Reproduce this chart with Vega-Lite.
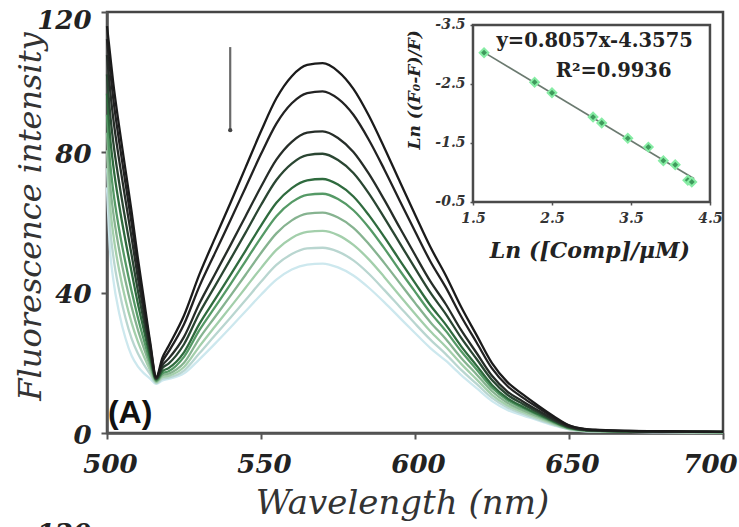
{
  "$schema": "https://vega.github.io/schema/vega-lite/v6.json",
  "width": 616,
  "height": 421,
  "autosize": {"type": "none"},
  "padding": {"left": 107, "top": 12, "right": 16, "bottom": 94},
  "background": "white",
  "config": {"view": {"stroke": "#454545", "strokeWidth": 2.5}, "axis": {"grid": false}},
  "resolve": {"scale": {"x": "independent", "y": "independent"}},
  "layer": [
    {
      "encoding": {
        "x": {"field": "x", "type": "quantitative", "scale": {"domain": [500, 700], "nice": false, "zero": false},
          "axis": {"values": [500, 550, 600, 650, 700], "title": "Wavelength (nm)", "domainColor": "#555", "domainWidth": 2.5, "tickColor": "#555", "tickWidth": 2, "tickSize": 6,
            "labelFont": "DejaVu Serif", "labelFontSize": 26, "labelFontWeight": "bold", "labelFontStyle": "italic", "labelColor": "#222", "labelBaseline": "alphabetic", "labelPadding": 33,
            "labelOffset": {"condition": {"test": "datum.value == 700", "value": -13}, "value": 3}, "labelFlush": false, "labelOverlap": false,
            "titleFont": "DejaVu Serif", "titleFontSize": 34, "titleFontStyle": "italic", "titleFontWeight": "normal", "titleColor": "#333", "titleX": 295, "titleY": 80, "titleBaseline": "alphabetic", "titleAlign": "center"}},
        "y": {"field": "y", "type": "quantitative", "scale": {"domain": [0, 120], "nice": false, "zero": false},
          "axis": {"values": [0, 40, 80, 120], "title": "Fluorescence intensity", "domainColor": "#555", "domainWidth": 2.5, "tickColor": "#555", "tickWidth": 2, "tickSize": 6,
            "labelFont": "DejaVu Serif", "labelFontSize": 26, "labelFontWeight": "bold", "labelFontStyle": "italic", "labelColor": "#222", "labelPadding": 10, "labelFlush": false, "labelOverlap": false,
            "labelOffset": {"condition": {"test": "datum.value == 120", "value": 8}, "value": 2},
            "titleFont": "DejaVu Serif", "titleFontSize": 32, "titleFontStyle": "italic", "titleFontWeight": "normal", "titleColor": "#333", "titleX": -67, "titleY": 204, "titleAngle": 270, "titleBaseline": "alphabetic", "titleAlign": "center"}}
      },
      "layer": [
        {
          "data": {"values": [
            {"x": 500, "s01": 70, "s02": 75.5, "s03": 80.6, "s04": 85.6, "s05": 90.7, "s06": 96.7, "s07": 102.2, "s08": 107.7, "s09": 112.3, "s10": 116},
            {"x": 501, "s01": 52, "s02": 58.7, "s03": 64.9, "s04": 71, "s05": 77.2, "s06": 84.5, "s07": 91.2, "s08": 97.9, "s09": 103.5, "s10": 108},
            {"x": 502, "s01": 44, "s02": 50.7, "s03": 56.9, "s04": 63, "s05": 69.2, "s06": 76.5, "s07": 83.2, "s08": 89.9, "s09": 95.5, "s10": 100},
            {"x": 504, "s01": 34, "s02": 40.4, "s03": 46.2, "s04": 52, "s05": 57.8, "s06": 64.7, "s07": 71.1, "s08": 77.5, "s09": 82.8, "s10": 87},
            {"x": 506, "s01": 27, "s02": 32.8, "s03": 38, "s04": 43.3, "s05": 48.6, "s06": 54.8, "s07": 60.6, "s08": 66.4, "s09": 71.2, "s10": 75},
            {"x": 508, "s01": 22, "s02": 26.9, "s03": 31.4, "s04": 35.9, "s05": 40.4, "s06": 45.8, "s07": 50.7, "s08": 55.6, "s09": 59.7, "s10": 63},
            {"x": 510, "s01": 19, "s02": 22.7, "s03": 26.1, "s04": 29.5, "s05": 33, "s06": 37, "s07": 40.7, "s08": 44.4, "s09": 47.5, "s10": 50},
            {"x": 512, "s01": 17, "s02": 19.5, "s03": 21.8, "s04": 24.1, "s05": 26.4, "s06": 29.2, "s07": 31.7, "s08": 34.2, "s09": 36.3, "s10": 38},
            {"x": 514, "s01": 15.5, "s02": 16.8, "s03": 17.9, "s04": 19.1, "s05": 20.2, "s06": 21.6, "s07": 22.8, "s08": 24.1, "s09": 25.2, "s10": 26},
            {"x": 516, "s01": 14, "s02": 14.2, "s03": 14.5, "s04": 14.7, "s05": 14.9, "s06": 15.2, "s07": 15.4, "s08": 15.6, "s09": 15.8, "s10": 16},
            {"x": 518, "s01": 15, "s02": 15.5, "s03": 16, "s04": 16.5, "s05": 17, "s06": 17.6, "s07": 18.5, "s08": 19.3, "s09": 20.4, "s10": 21.5},
            {"x": 520, "s01": 15.4, "s02": 15.8, "s03": 16.3, "s04": 16.9, "s05": 17.6, "s06": 18.5, "s07": 19.8, "s08": 21.2, "s09": 23.2, "s10": 24.8},
            {"x": 525, "s01": 17, "s02": 17.8, "s03": 18.8, "s04": 20, "s05": 21.7, "s06": 23, "s07": 25.3, "s08": 27.4, "s09": 31, "s10": 33.5},
            {"x": 530, "s01": 21, "s02": 22.7, "s03": 24.7, "s04": 27, "s05": 29.3, "s06": 31.1, "s07": 34.2, "s08": 36.9, "s09": 41.8, "s10": 45.2},
            {"x": 535, "s01": 25.4, "s02": 27.8, "s03": 30.3, "s04": 33, "s05": 35.8, "s06": 38, "s07": 41.8, "s08": 45.2, "s09": 51.2, "s10": 55.4},
            {"x": 540, "s01": 30, "s02": 32.8, "s03": 35.8, "s04": 39, "s05": 42.3, "s06": 44.9, "s07": 49.4, "s08": 53.4, "s09": 60.5, "s10": 65.4},
            {"x": 545, "s01": 34.7, "s02": 37.9, "s03": 41.4, "s04": 45.1, "s05": 49, "s06": 52, "s07": 57.1, "s08": 61.8, "s09": 70, "s10": 75.7},
            {"x": 550, "s01": 39.4, "s02": 43.1, "s03": 47, "s04": 51.3, "s05": 55.7, "s06": 59.1, "s07": 65, "s08": 70.2, "s09": 79.5, "s10": 86},
            {"x": 555, "s01": 43.7, "s02": 47.9, "s03": 52.2, "s04": 56.9, "s05": 61.8, "s06": 65.6, "s07": 72.1, "s08": 77.9, "s09": 88.2, "s10": 95.4},
            {"x": 560, "s01": 46.6, "s02": 51, "s03": 55.6, "s04": 60.6, "s05": 65.8, "s06": 69.8, "s07": 76.8, "s08": 83, "s09": 94, "s10": 101.7},
            {"x": 565, "s01": 48, "s02": 52.6, "s03": 57.3, "s04": 62.5, "s05": 67.9, "s06": 72, "s07": 79.2, "s08": 85.6, "s09": 96.9, "s10": 104.9},
            {"x": 570, "s01": 48.3, "s02": 52.8, "s03": 57.6, "s04": 62.8, "s05": 68.2, "s06": 72.4, "s07": 79.6, "s08": 86, "s09": 97.4, "s10": 105.4},
            {"x": 575, "s01": 47.2, "s02": 51.7, "s03": 56.4, "s04": 61.4, "s05": 66.7, "s06": 70.8, "s07": 77.8, "s08": 84.1, "s09": 95.3, "s10": 103.1},
            {"x": 580, "s01": 44.9, "s02": 49.2, "s03": 53.6, "s04": 58.5, "s05": 63.5, "s06": 67.4, "s07": 74.1, "s08": 80.1, "s09": 90.7, "s10": 98.1},
            {"x": 585, "s01": 41.4, "s02": 45.4, "s03": 49.5, "s04": 53.9, "s05": 58.6, "s06": 62.1, "s07": 68.3, "s08": 73.9, "s09": 83.6, "s10": 90.5},
            {"x": 590, "s01": 37.3, "s02": 40.8, "s03": 44.5, "s04": 48.5, "s05": 52.7, "s06": 55.9, "s07": 61.4, "s08": 66.5, "s09": 75.2, "s10": 81.4},
            {"x": 595, "s01": 32.9, "s02": 36, "s03": 39.2, "s04": 42.8, "s05": 46.4, "s06": 49.3, "s07": 54.2, "s08": 58.6, "s09": 66.3, "s10": 71.8},
            {"x": 600, "s01": 28.5, "s02": 31.2, "s03": 34, "s04": 37.1, "s05": 40.3, "s06": 42.8, "s07": 47, "s08": 50.8, "s09": 57.5, "s10": 62.3},
            {"x": 605, "s01": 24.2, "s02": 26.6, "s03": 29, "s04": 31.6, "s05": 34.3, "s06": 36.4, "s07": 40, "s08": 43.2, "s09": 48.9, "s10": 53},
            {"x": 610, "s01": 20.6, "s02": 22.5, "s03": 24.6, "s04": 26.8, "s05": 29.1, "s06": 30.9, "s07": 33.9, "s08": 36.7, "s09": 41.5, "s10": 44.9},
            {"x": 615, "s01": 16.5, "s02": 18, "s03": 19.7, "s04": 21.4, "s05": 23.3, "s06": 24.7, "s07": 27.1, "s08": 29.3, "s09": 33.2, "s10": 35.9},
            {"x": 620, "s01": 12.8, "s02": 14, "s03": 15.3, "s04": 16.7, "s05": 18.1, "s06": 19.2, "s07": 21.1, "s08": 22.8, "s09": 25.8, "s10": 27.9},
            {"x": 625, "s01": 9.1, "s02": 10, "s03": 10.9, "s04": 11.9, "s05": 12.9, "s06": 13.7, "s07": 15.1, "s08": 16.3, "s09": 18.4, "s10": 19.9},
            {"x": 630, "s01": 6.6, "s02": 7.3, "s03": 7.9, "s04": 8.6, "s05": 9.4, "s06": 9.9, "s07": 10.9, "s08": 11.8, "s09": 13.4, "s10": 14.5},
            {"x": 635, "s01": 5, "s02": 5.5, "s03": 6, "s04": 6.5, "s05": 7.1, "s06": 7.5, "s07": 8.3, "s08": 9, "s09": 10.1, "s10": 11},
            {"x": 640, "s01": 3.6, "s02": 3.9, "s03": 4.3, "s04": 4.7, "s05": 5.1, "s06": 5.4, "s07": 5.9, "s08": 6.4, "s09": 7.2, "s10": 7.8},
            {"x": 645, "s01": 2.2, "s02": 2.4, "s03": 2.6, "s04": 2.9, "s05": 3.1, "s06": 3.3, "s07": 3.6, "s08": 3.9, "s09": 4.4, "s10": 4.8},
            {"x": 650, "s01": 1, "s02": 1.1, "s03": 1.2, "s04": 1.3, "s05": 1.4, "s06": 1.5, "s07": 1.7, "s08": 1.8, "s09": 2.1, "s10": 2.2},
            {"x": 655, "s01": 0.5, "s02": 0.6, "s03": 0.6, "s04": 0.7, "s05": 0.8, "s06": 0.8, "s07": 0.9, "s08": 0.9, "s09": 1.1, "s10": 1.2},
            {"x": 660, "s01": 0.4, "s02": 0.5, "s03": 0.5, "s04": 0.5, "s05": 0.6, "s06": 0.6, "s07": 0.7, "s08": 0.7, "s09": 0.8, "s10": 0.9},
            {"x": 670, "s01": 0.3, "s02": 0.3, "s03": 0.3, "s04": 0.4, "s05": 0.4, "s06": 0.4, "s07": 0.5, "s08": 0.5, "s09": 0.6, "s10": 0.6},
            {"x": 680, "s01": 0.2, "s02": 0.3, "s03": 0.3, "s04": 0.3, "s05": 0.3, "s06": 0.4, "s07": 0.4, "s08": 0.4, "s09": 0.5, "s10": 0.5},
            {"x": 690, "s01": 0.2, "s02": 0.2, "s03": 0.2, "s04": 0.3, "s05": 0.3, "s06": 0.3, "s07": 0.3, "s08": 0.4, "s09": 0.4, "s10": 0.4},
            {"x": 700, "s01": 0.2, "s02": 0.2, "s03": 0.2, "s04": 0.2, "s05": 0.2, "s06": 0.3, "s07": 0.3, "s08": 0.3, "s09": 0.3, "s10": 0.3}
          ]},
          "transform": [{"fold": ["s01", "s02", "s03", "s04", "s05", "s06", "s07", "s08", "s09", "s10"], "as": ["curve", "y"]}],
          "mark": {"type": "line", "interpolate": "monotone", "strokeWidth": 2.3},
          "encoding": {
            "color": {"field": "curve", "type": "nominal", "legend": null,
              "scale": {"domain": ["s01", "s02", "s03", "s04", "s05", "s06", "s07", "s08", "s09", "s10"],
                "range": ["#cde8ee", "#b9d6d0", "#a3cfab", "#86b390", "#559a66", "#2f6b3e", "#2a4632", "#262d28", "#222222", "#1b1b1b"]}}
          }
        },
        {
          "data": {"values": [{"x": 540, "y": 110, "y2": 86.5}]},
          "mark": {"type": "rule", "color": "#6a6a6a", "strokeWidth": 2.2},
          "encoding": {"y2": {"field": "y2"}}
        },
        {
          "data": {"values": [{"x": 540, "y": 86.3}]},
          "mark": {"type": "point", "shape": "circle", "filled": true, "size": 18, "color": "#444", "opacity": 1}
        },
        {
          "data": {"values": [{"x": 500.3, "y": 2.85, "label": "(A)"}]},
          "mark": {"type": "text", "font": "Liberation Sans", "fontWeight": "bold", "fontSize": 32, "align": "left", "baseline": "alphabetic", "color": "#111"},
          "encoding": {"text": {"field": "label"}}
        },
        {
          "data": {"values": [{"x": 486, "y": -31, "label": "120"}]},
          "mark": {"type": "text", "font": "DejaVu Serif", "fontWeight": "bold", "fontStyle": "italic", "fontSize": 26, "align": "center", "baseline": "alphabetic", "color": "#222"},
          "encoding": {"text": {"field": "label"}}
        }
      ]
    },
    {
      "encoding": {
        "x": {"field": "x", "type": "quantitative", "scale": {"domain": [-3.133, 4.665], "nice": false, "zero": false},
          "axis": {"orient": "bottom", "offset": -231, "values": [1.5, 2.5, 3.5, 4.5], "domain": false, "tickColor": "#555", "tickSize": 3, "tickWidth": 1.5,
            "labelFont": "DejaVu Serif", "labelFontSize": 14, "labelFontWeight": "bold", "labelFontStyle": "italic", "labelColor": "#333", "labelBaseline": "alphabetic", "labelPadding": 17,
            "labelExpr": "datum.value + ''", "labelFlush": false, "labelOverlap": false, "title": null}},
        "y": {"field": "y", "type": "quantitative", "scale": {"domain": [-3.72, 3.415], "reverse": true, "nice": false, "zero": false},
          "axis": {"orient": "left", "offset": -366, "values": [-3.5, -2.5, -1.5, -0.5], "domain": false, "tickColor": "#555", "tickSize": 3, "tickWidth": 1.5,
            "labelFont": "DejaVu Serif", "labelFontSize": 14, "labelFontWeight": "bold", "labelFontStyle": "italic", "labelColor": "#333", "labelPadding": 5,
            "labelExpr": "datum.value + ''", "labelFlush": false, "labelOverlap": false, "title": null}}
      },
      "layer": [
        {
          "data": {"values": [{"x": 1.5, "x2": 4.5, "y": -3.5, "y2": -0.5}]},
          "mark": {"type": "rect", "fill": "white", "stroke": "#4a4a4a", "strokeWidth": 2.5},
          "encoding": {"x2": {"field": "x2"}, "y2": {"field": "y2"}}
        },
        {
          "data": {"values": [{"x": 1.64, "y": -3.036}, {"x": 4.3, "y": -0.893}]},
          "mark": {"type": "line", "color": "#6b7a70", "strokeWidth": 1.6}
        },
        {
          "data": {"values": [
            {"x": 1.64, "y": -3.03}, {"x": 2.28, "y": -2.53}, {"x": 2.5, "y": -2.35}, {"x": 3.02, "y": -1.94},
            {"x": 3.13, "y": -1.84}, {"x": 3.46, "y": -1.58}, {"x": 3.72, "y": -1.43}, {"x": 3.91, "y": -1.2},
            {"x": 4.06, "y": -1.13}, {"x": 4.22, "y": -0.87}, {"x": 4.27, "y": -0.84}
          ]},
          "mark": {"type": "point", "shape": "diamond", "filled": true, "size": 75, "color": "#3f9a5c", "stroke": "#86eca4", "strokeWidth": 2, "opacity": 1}
        },
        {
          "data": {"values": [{"x": 3.04, "y": -3.13, "label": "y=0.8057x-4.3575"}, {"x": 3.28, "y": -2.62, "label": "R²=0.9936"}]},
          "mark": {"type": "text", "font": "DejaVu Serif", "fontWeight": "bold", "fontSize": 19.5, "align": "center", "baseline": "alphabetic", "color": "#222"},
          "encoding": {"text": {"field": "label"}}
        },
        {
          "data": {"values": [{"x": 2.98, "y": 0.45, "label": "Ln ([Comp]/μM)"}]},
          "mark": {"type": "text", "font": "DejaVu Serif", "fontWeight": "bold", "fontStyle": "italic", "fontSize": 22, "align": "center", "baseline": "alphabetic", "color": "#222"},
          "encoding": {"text": {"field": "label"}}
        },
        {
          "data": {"values": [{"x": 0.83, "y": -2.4, "label": "Ln ((F₀-F)/F)"}]},
          "mark": {"type": "text", "font": "DejaVu Serif", "fontWeight": "bold", "fontStyle": "italic", "fontSize": 17, "angle": 270, "align": "center", "baseline": "alphabetic", "color": "#222"},
          "encoding": {"text": {"field": "label"}}
        }
      ]
    }
  ]
}
